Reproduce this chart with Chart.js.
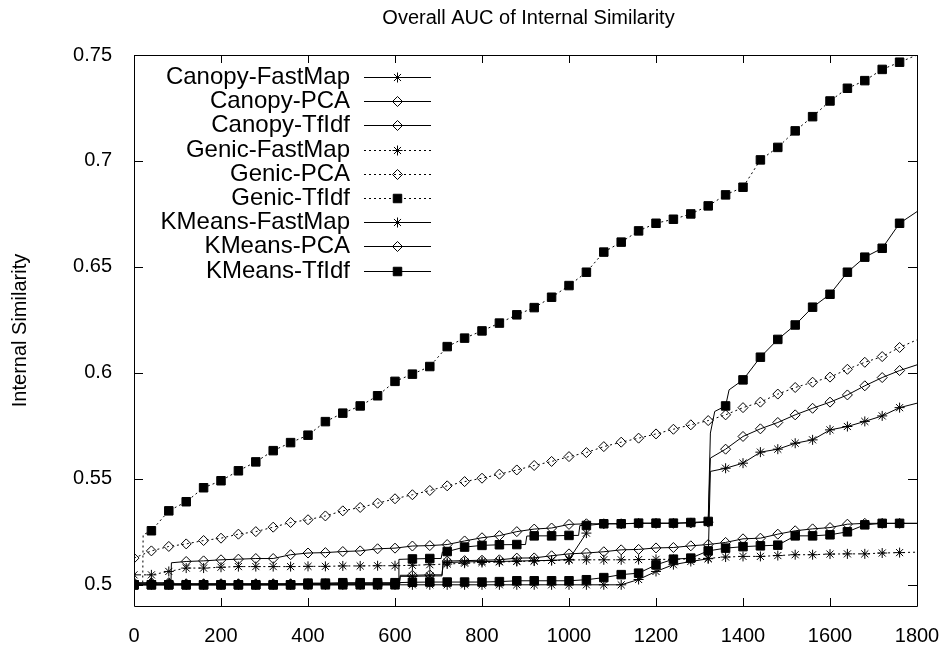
<!DOCTYPE html>
<html>
<head>
<meta charset="utf-8">
<title>Overall AUC of Internal Similarity</title>
<script src="https://cdn.jsdelivr.net/npm/chart.js@4.4.1/dist/chart.umd.min.js"></script>
<style>
  html, body { margin: 0; padding: 0; background: #fff; }
  #wrap { width: 950px; height: 645px; }
</style>
</head>
<body>
<div id="wrap"><canvas id="auc" width="950" height="645"></canvas></div>
<script>
// sample positions (a marker is drawn at every one except the last)
const xs = [0, 40, 80, 120, 160, 200, 240, 280, 320, 360,
            400, 440, 480, 520, 560, 600, 640, 680, 720, 760,
            800, 840, 880, 920, 960, 1000, 1040, 1080, 1120, 1160,
            1200, 1240, 1280, 1320, 1360, 1400, 1440, 1480, 1520, 1560,
            1600, 1640, 1680, 1720, 1760, 1800];

const xTicks = [0, 200, 400, 600, 800, 1000, 1200, 1400, 1600, 1800];
const yTicks = [0.5, 0.55, 0.6, 0.65, 0.7, 0.75];

const canopyFastMap = [0.5004, 0.5004, 0.5004, 0.5004, 0.5004, 0.5004, 0.5004, 0.5004, 0.5004, 0.5004,
  0.5004, 0.5004, 0.5004, 0.5004, 0.5004, 0.5004, 0.504, 0.5042, 0.5105, 0.5108,
  0.511, 0.511, 0.5112, 0.5114, 0.5115, 0.512, 0.5244, null, null, null,
  null, null, null, null, null, null, null, null, null, null,
  null, null, null, null, null, null];
const canopyPca = [0.5005, 0.5005, 0.5005, 0.5005, 0.5005, 0.5005, 0.5005, 0.5005, 0.5005, 0.5005,
  0.5005, 0.5005, 0.5005, 0.5005, 0.5005, 0.5005, 0.5045, 0.5047, 0.5112, 0.5114,
  0.5116, 0.5118, 0.5126, 0.5127, 0.5137, 0.5146, 0.515, 0.5156, 0.5165, 0.5167,
  0.5174, 0.5176, 0.5184, 0.519, 0.52, 0.5217, 0.522, 0.5239, 0.5255, 0.5264,
  0.527, 0.5286, 0.529, 0.529, 0.529, 0.529];
const canopyTfidf = [0.5, 0.5, 0.5, 0.5, 0.5, 0.5, 0.5, 0.5, 0.5, 0.5,
  0.5008, 0.5008, 0.501, 0.501, 0.501, 0.501, 0.5012, 0.5013, 0.5013, 0.5013,
  0.5013, 0.5015, 0.5019, 0.5019, 0.5019, 0.5019, 0.5024, 0.5034, 0.5048, 0.5055,
  0.5094, 0.5121, 0.5126, 0.516, 0.5173, 0.518, 0.5184, 0.5187, 0.5231, 0.5231,
  0.5236, 0.525, 0.5283, 0.529, 0.529, 0.529];
const genicFastMap = [0.5047, 0.5047, 0.5063, 0.5079, 0.5079, 0.5083, 0.5086, 0.5086, 0.5086, 0.5086,
  0.5087, 0.5087, 0.5089, 0.5089, 0.509, 0.509, 0.5092, 0.5095, 0.5098, 0.5102,
  0.5105, 0.5108, 0.511, 0.5112, 0.5115, 0.5117, 0.5118, 0.5118, 0.5118, 0.5119,
  0.512, 0.512, 0.5122, 0.5125, 0.5131, 0.5134, 0.5134, 0.5138, 0.5142, 0.5142,
  0.5145, 0.5146, 0.5146, 0.515, 0.5152, 0.5154];
const genicPca = [0.5126, 0.516, 0.5181, 0.5193, 0.5209, 0.522, 0.5239, 0.5251, 0.5272, 0.5294,
  0.5307, 0.5325, 0.5349, 0.5365, 0.5385, 0.5406, 0.5425, 0.5445, 0.5467, 0.5487,
  0.5503, 0.5522, 0.5542, 0.5563, 0.5582, 0.5605, 0.5624, 0.5652, 0.5673, 0.5692,
  0.5712, 0.5734, 0.5755, 0.5775, 0.5802, 0.5836, 0.5862, 0.59, 0.5931, 0.5956,
  0.598, 0.6017, 0.605, 0.6077, 0.612, 0.6156];
const genicTfidf = [0.5, 0.5255, 0.5349, 0.5392, 0.5458, 0.5491, 0.5538, 0.558, 0.5633, 0.5671,
  0.5706, 0.577, 0.581, 0.5844, 0.5892, 0.596, 0.5994, 0.603, 0.6124, 0.6164,
  0.6198, 0.6235, 0.6274, 0.6308, 0.6357, 0.6412, 0.6475, 0.657, 0.6617, 0.667,
  0.6706, 0.6725, 0.675, 0.6788, 0.684, 0.6876, 0.7005, 0.7064, 0.7142, 0.7209,
  0.7283, 0.7343, 0.7379, 0.7432, 0.7466, 0.75];
const kmeansFastMap = [0.5, 0.5, 0.5, 0.5, 0.5, 0.5, 0.5, 0.5, 0.5, 0.5,
  0.5, 0.5, 0.5, 0.5, 0.5, 0.5, 0.5, 0.5, 0.5, 0.5,
  0.5, 0.5, 0.5, 0.5, 0.5, 0.5, 0.5, 0.5, 0.5, 0.5025,
  0.5063, 0.5095, 0.511, 0.5123, 0.555, 0.5574, 0.5626, 0.564, 0.5668, 0.5684,
  0.5731, 0.5747, 0.5771, 0.5797, 0.5836, 0.5857];
const kmeansPca = [0.501, 0.501, 0.501, 0.511, 0.5113, 0.5118, 0.5121, 0.5124, 0.5124, 0.5142,
  0.515, 0.5152, 0.5157, 0.516, 0.517, 0.5173, 0.5183, 0.5185, 0.519, 0.5207,
  0.5222, 0.5232, 0.5251, 0.5263, 0.5268, 0.5285, 0.5288, 0.5288, 0.5288, 0.529,
  0.529, 0.529, 0.5292, 0.5296, 0.564, 0.57, 0.5736, 0.5766, 0.5802, 0.5833,
  0.5862, 0.5896, 0.5939, 0.5978, 0.6011, 0.6038];
const kmeansTfidf = [0.5, 0.5, 0.5, 0.5, 0.5, 0.5, 0.5, 0.5, 0.5, 0.5,
  0.5, 0.5, 0.5, 0.5, 0.5, 0.5, 0.5122, 0.5124, 0.5157, 0.5178,
  0.5186, 0.5189, 0.519, 0.5231, 0.5231, 0.5233, 0.528, 0.5288, 0.5288, 0.5291,
  0.5291, 0.5291, 0.5294, 0.5299, 0.5844, 0.5967, 0.6074, 0.6158, 0.6226, 0.631,
  0.6371, 0.6475, 0.6546, 0.6588, 0.6706, 0.6761];

// extra unmarked samples where a curve jumps between two markers
const canopyFastMapSteps = [[610, 0.5004], [612, 0.504], [708, 0.5042], [711, 0.5105]];
const canopyPcaSteps = [[610, 0.5005], [612, 0.5045], [708, 0.5047], [711, 0.5112]];
const genicTfidfSteps = [[20, 0.5005], [21, 0.5236]];
const kmeansFastMapSteps = [[1325, 0.5535]];
const kmeansPcaSteps = [[85, 0.501], [86, 0.5104], [1325, 0.5598]];
const kmeansTfidfSteps = [[607, 0.5], [609, 0.512], [706, 0.5124], [709, 0.5155], [900, 0.519], [903, 0.523],
  [1022, 0.5233], [1025, 0.528], [1325, 0.5716], [1335, 0.5818], [1368, 0.592]];

const seriesNames = ['Canopy-FastMap', 'Canopy-PCA', 'Canopy-TfIdf',
                     'Genic-FastMap', 'Genic-PCA', 'Genic-TfIdf',
                     'KMeans-FastMap', 'KMeans-PCA', 'KMeans-TfIdf'];
const seriesValues = [canopyFastMap, canopyPca, canopyTfidf,
                      genicFastMap, genicPca, genicTfidf,
                      kmeansFastMap, kmeansPca, kmeansTfidf];
const seriesSteps = [canopyFastMapSteps, canopyPcaSteps, [],
                     [], [], genicTfidfSteps,
                     kmeansFastMapSteps, kmeansPcaSteps, kmeansTfidfSteps];

const FONT = '"Liberation Sans", Arial, Helvetica, sans-serif';
Chart.defaults.font.family = FONT;
Chart.defaults.color = '#000';

const markerSize = { star: 5, rectRot: 5, rect: 6 };

function markerFor(name) {
  if (name.endsWith('FastMap')) return 'star';
  if (name.endsWith('PCA')) return 'rectRot';
  return 'rect';
}

// the key shows an open diamond for Canopy-TfIdf
function keyMarkerFor(name) {
  return name === 'Canopy-TfIdf' ? 'rectRot' : markerFor(name);
}

function toPoints(vals, steps) {
  const pts = [];
  xs.forEach((x, i) => {
    if (vals[i] !== null) pts.push({ x: x, y: vals[i], mark: x < 1800 });
  });
  steps.forEach(s => pts.push({ x: s[0], y: s[1], mark: false }));
  return pts.sort((a, b) => a.x - b.x);
}

const datasets = seriesNames.map((name, i) => {
  const style = markerFor(name);
  return {
    label: name,
    data: toPoints(seriesValues[i], seriesSteps[i]),
    borderColor: '#000',
    borderWidth: 1,
    borderDash: name.startsWith('Genic') ? [2, 3] : [],
    pointStyle: style,
    pointRadius: c => (c.raw && c.raw.mark ? markerSize[style] : 0),
    pointBorderColor: '#000',
    pointBackgroundColor: style === 'rect' ? '#000' : 'rgba(0,0,0,0)',
    pointBorderWidth: 1,
    tension: 0,
    fill: false,
    order: seriesNames.length - 1 - i
  };
});

// box around the plot with inward ticks on all four sides
const frame = {
  id: 'frame',
  afterDatasetsDraw(chart) {
    const { ctx, chartArea: a, scales: { x, y } } = chart;
    ctx.save();
    ctx.strokeStyle = '#000';
    ctx.lineWidth = 1;
    ctx.beginPath();
    ctx.rect(Math.round(a.left) + 0.5, Math.round(a.top) + 0.5,
             Math.round(a.right - a.left), Math.round(a.bottom - a.top));
    xTicks.forEach(v => {
      const px = Math.round(x.getPixelForValue(v)) + 0.5;
      ctx.moveTo(px, a.bottom); ctx.lineTo(px, a.bottom - 8);
      ctx.moveTo(px, a.top); ctx.lineTo(px, a.top + 8);
    });
    yTicks.forEach(v => {
      const py = Math.round(y.getPixelForValue(v)) + 0.5;
      ctx.moveTo(a.left, py); ctx.lineTo(a.left + 9, py);
      ctx.moveTo(a.right, py); ctx.lineTo(a.right - 9, py);
    });
    ctx.stroke();
    ctx.restore();
  }
};

// gnuplot-style key: right-aligned names, line sample with its marker
const key = {
  id: 'key',
  afterDraw(chart) {
    const ctx = chart.ctx;
    ctx.save();
    ctx.font = '24px ' + FONT;
    ctx.textAlign = 'right';
    ctx.textBaseline = 'middle';
    chart.data.datasets.forEach((ds, i) => {
      const yy = Math.round(77 + i * 24.2) + 0.5;
      const style = keyMarkerFor(ds.label);
      ctx.fillStyle = '#000';
      ctx.fillText(ds.label, 350, yy);
      ctx.strokeStyle = '#000';
      ctx.lineWidth = 1;
      ctx.setLineDash(ds.borderDash);
      ctx.beginPath();
      ctx.moveTo(364, yy);
      ctx.lineTo(431, yy);
      ctx.stroke();
      ctx.setLineDash([]);
      ctx.fillStyle = style === 'rect' ? '#000' : 'rgba(0,0,0,0)';
      Chart.helpers.drawPoint(ctx, {
        pointStyle: style,
        radius: markerSize[style],
        rotation: 0,
        borderWidth: 1
      }, 397.5, yy);
    });
    ctx.restore();
  }
};

const heading = {
  id: 'heading',
  afterDraw(chart) {
    const ctx = chart.ctx;
    const a = chart.chartArea;
    ctx.save();
    ctx.font = '20px ' + FONT;
    ctx.fillStyle = '#000';
    ctx.textAlign = 'center';
    ctx.textBaseline = 'middle';
    ctx.fillText('Overall AUC of Internal Similarity', (a.left + a.right) / 2 + 3, 18);
    ctx.restore();
  }
};

new Chart(document.getElementById('auc'), {
  type: 'line',
  data: { datasets: datasets },
  options: {
    responsive: false,
    animation: false,
    events: [],
    layout: { padding: { top: 55, right: 33, left: 0, bottom: 0 } },
    plugins: {
      legend: { display: false },
      tooltip: { enabled: false },
      title: { display: false }
    },
    scales: {
      x: {
        type: 'linear',
        min: 0,
        max: 1800,
        afterBuildTicks: s => { s.ticks = xTicks.map(v => ({ value: v })); },
        afterFit: s => { s.height = 39; },
        ticks: {
          font: { size: 20 },
          color: '#000',
          padding: 10,
          maxRotation: 0,
          callback: v => String(v)
        },
        grid: { display: false },
        border: { display: false }
      },
      y: {
        type: 'linear',
        min: 0.49,
        max: 0.75,
        afterBuildTicks: s => { s.ticks = yTicks.map(v => ({ value: v })); },
        afterFit: s => { s.width = 134; },
        ticks: {
          font: { size: 20 },
          color: '#000',
          padding: 14,
          callback: v => String(+v.toFixed(2))
        },
        title: {
          display: true,
          text: 'Internal Similarity',
          font: { size: 20 },
          color: '#000',
          padding: { top: 8, bottom: 0 }
        },
        grid: { display: false },
        border: { display: false }
      }
    }
  },
  plugins: [frame, key, heading]
});
</script>
</body>
</html>
